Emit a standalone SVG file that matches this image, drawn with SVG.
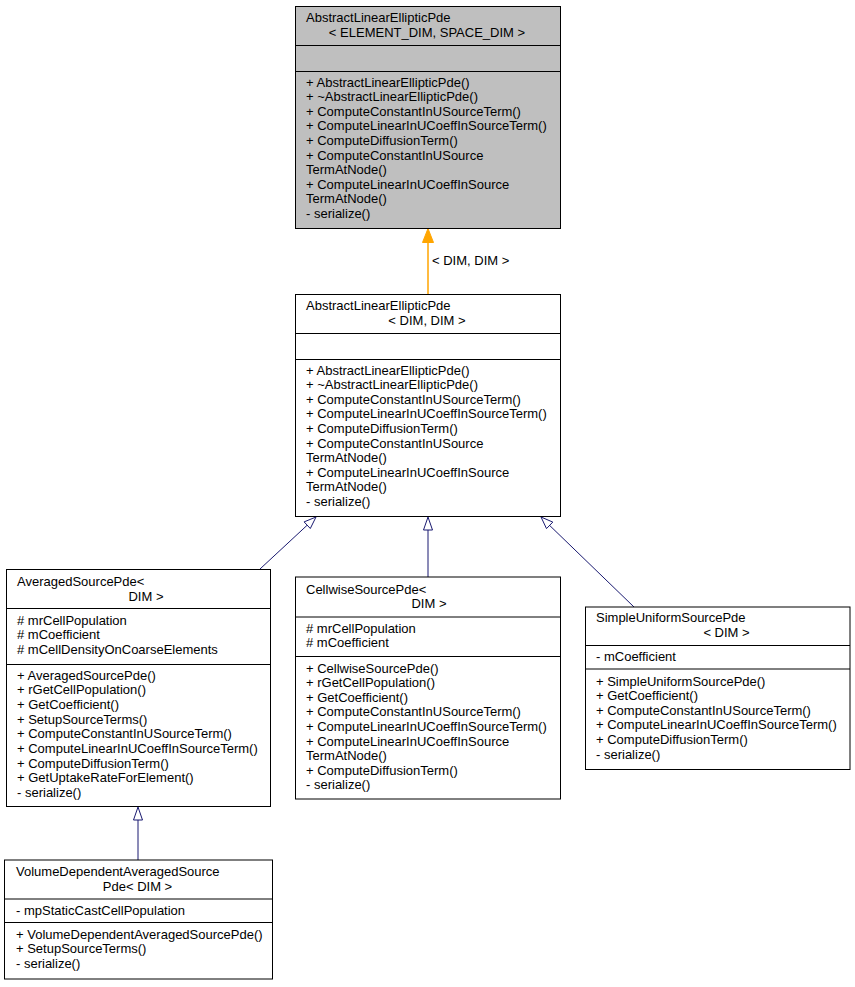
<svg xmlns="http://www.w3.org/2000/svg" width="855" height="987" viewBox="0 0 855 987">
<style>
.box{fill:#ffffff;stroke:#000000;stroke-width:1}
.gray{fill:#bfbfbf}
.sep{stroke:#000000;stroke-width:1}
text{font-family:"Liberation Sans",Arial,Helvetica,sans-serif;font-size:13px;fill:#000000}
.mid{text-anchor:middle}
.edge{stroke:#191970;stroke-width:1;fill:none}
.head{fill:#ffffff;stroke:#191970;stroke-width:1}
.oedge{stroke:#ffa500;stroke-width:1.5;fill:none}
.ohead{fill:#ffa500;stroke:#ffa500;stroke-width:1}
</style>
<rect width="855" height="987" fill="#ffffff"/>

<g id="connectors">
  <line class="oedge" x1="428" y1="294" x2="428" y2="242"/>
  <polygon class="ohead" points="428,228.5 422.5,242.5 433.5,242.5"/>
  <text x="432" y="264.5">&lt; DIM, DIM &gt;</text>

  <line class="edge" x1="260" y1="569" x2="307.2" y2="525.2"/>
  <polygon class="head" points="316,517 304.1,521.9 310.3,528.5"/>

  <line class="edge" x1="428" y1="577" x2="428" y2="530"/>
  <polygon class="head" points="428,517 423.5,530 432.5,530"/>

  <line class="edge" x1="634" y1="607" x2="549.6" y2="525.4"/>
  <polygon class="head" points="541,517 552.8,522.1 546.5,528.6"/>

  <line class="edge" x1="138" y1="860" x2="138" y2="820"/>
  <polygon class="head" points="138,807 133.5,820 142.5,820"/>
</g>

<g id="node1">
  <rect class="box gray" x="295.5" y="6.5" width="265" height="222"/>
  <line class="sep" x1="295.5" y1="45.5" x2="560.5" y2="45.5"/>
  <line class="sep" x1="295.5" y1="71.5" x2="560.5" y2="71.5"/>
  <text x="306" y="22">AbstractLinearEllipticPde</text>
  <text class="mid" x="427" y="37">&lt; ELEMENT_DIM, SPACE_DIM &gt;</text>
  <text x="306" y="86.5">+ AbstractLinearEllipticPde()</text>
  <text x="306" y="101.1">+ ~AbstractLinearEllipticPde()</text>
  <text x="306" y="115.7">+ ComputeConstantInUSourceTerm()</text>
  <text x="306" y="130.3">+ ComputeLinearInUCoeffInSourceTerm()</text>
  <text x="306" y="144.9">+ ComputeDiffusionTerm()</text>
  <text x="306" y="159.5">+ ComputeConstantInUSource</text>
  <text x="306" y="174.1">TermAtNode()</text>
  <text x="306" y="188.7">+ ComputeLinearInUCoeffInSource</text>
  <text x="306" y="203.3">TermAtNode()</text>
  <text x="306" y="217.9">- serialize()</text>
</g>

<g id="node2">
  <rect class="box" x="295.5" y="294.5" width="265" height="222"/>
  <line class="sep" x1="295.5" y1="333.5" x2="560.5" y2="333.5"/>
  <line class="sep" x1="295.5" y1="359.5" x2="560.5" y2="359.5"/>
  <text x="306" y="310">AbstractLinearEllipticPde</text>
  <text class="mid" x="427" y="325">&lt; DIM, DIM &gt;</text>
  <text x="306" y="374.5">+ AbstractLinearEllipticPde()</text>
  <text x="306" y="389.1">+ ~AbstractLinearEllipticPde()</text>
  <text x="306" y="403.7">+ ComputeConstantInUSourceTerm()</text>
  <text x="306" y="418.3">+ ComputeLinearInUCoeffInSourceTerm()</text>
  <text x="306" y="432.9">+ ComputeDiffusionTerm()</text>
  <text x="306" y="447.5">+ ComputeConstantInUSource</text>
  <text x="306" y="462.1">TermAtNode()</text>
  <text x="306" y="476.7">+ ComputeLinearInUCoeffInSource</text>
  <text x="306" y="491.3">TermAtNode()</text>
  <text x="306" y="505.9">- serialize()</text>
</g>

<g id="node3">
  <rect class="box" x="6.5" y="569.5" width="264" height="237"/>
  <line class="sep" x1="6.5" y1="608.5" x2="270.5" y2="608.5"/>
  <line class="sep" x1="6.5" y1="664.5" x2="270.5" y2="664.5"/>
  <text x="17" y="585.5">AveragedSourcePde&lt;</text>
  <text class="mid" x="146" y="600.5">DIM &gt;</text>
  <text x="17" y="624.5"># mrCellPopulation</text>
  <text x="17" y="639.1"># mCoefficient</text>
  <text x="17" y="653.7"># mCellDensityOnCoarseElements</text>
  <text x="17" y="679.5">+ AveragedSourcePde()</text>
  <text x="17" y="694.2">+ rGetCellPopulation()</text>
  <text x="17" y="708.9">+ GetCoefficient()</text>
  <text x="17" y="723.6">+ SetupSourceTerms()</text>
  <text x="17" y="738.3">+ ComputeConstantInUSourceTerm()</text>
  <text x="17" y="753">+ ComputeLinearInUCoeffInSourceTerm()</text>
  <text x="17" y="767.7">+ ComputeDiffusionTerm()</text>
  <text x="17" y="782.4">+ GetUptakeRateForElement()</text>
  <text x="17" y="797.1">- serialize()</text>
</g>

<g id="node4">
  <rect class="box" x="295.5" y="577" width="265" height="222"/>
  <line class="sep" x1="295.5" y1="617" x2="560.5" y2="617"/>
  <line class="sep" x1="295.5" y1="656.5" x2="560.5" y2="656.5"/>
  <text x="306" y="593.5">CellwiseSourcePde&lt;</text>
  <text class="mid" x="429" y="607.5">DIM &gt;</text>
  <text x="306" y="632.5"># mrCellPopulation</text>
  <text x="306" y="647"># mCoefficient</text>
  <text x="306" y="672.5">+ CellwiseSourcePde()</text>
  <text x="306" y="687.1">+ rGetCellPopulation()</text>
  <text x="306" y="701.7">+ GetCoefficient()</text>
  <text x="306" y="716.3">+ ComputeConstantInUSourceTerm()</text>
  <text x="306" y="730.9">+ ComputeLinearInUCoeffInSourceTerm()</text>
  <text x="306" y="745.5">+ ComputeLinearInUCoeffInSource</text>
  <text x="306" y="760.1">TermAtNode()</text>
  <text x="306" y="774.7">+ ComputeDiffusionTerm()</text>
  <text x="306" y="789.3">- serialize()</text>
</g>

<g id="node5">
  <rect class="box" x="585.5" y="607" width="264.5" height="162.5"/>
  <line class="sep" x1="585.5" y1="645.5" x2="850" y2="645.5"/>
  <line class="sep" x1="585.5" y1="669" x2="850" y2="669"/>
  <text x="596" y="621.5">SimpleUniformSourcePde</text>
  <text class="mid" x="726.5" y="637">&lt; DIM &gt;</text>
  <text x="596" y="660.5">- mCoefficient</text>
  <text x="596" y="685.5">+ SimpleUniformSourcePde()</text>
  <text x="596" y="700.1">+ GetCoefficient()</text>
  <text x="596" y="714.7">+ ComputeConstantInUSourceTerm()</text>
  <text x="596" y="729.3">+ ComputeLinearInUCoeffInSourceTerm()</text>
  <text x="596" y="743.9">+ ComputeDiffusionTerm()</text>
  <text x="596" y="758.5">- serialize()</text>
</g>

<g id="node6">
  <rect class="box" x="4.5" y="860" width="268" height="119"/>
  <line class="sep" x1="4.5" y1="899" x2="272.5" y2="899"/>
  <line class="sep" x1="4.5" y1="922.5" x2="272.5" y2="922.5"/>
  <text x="16" y="876">VolumeDependentAveragedSource</text>
  <text class="mid" x="137.5" y="891">Pde&lt; DIM &gt;</text>
  <text x="16" y="914.5">- mpStaticCastCellPopulation</text>
  <text x="16" y="938.5">+ VolumeDependentAveragedSourcePde()</text>
  <text x="16" y="953">+ SetupSourceTerms()</text>
  <text x="16" y="967.5">- serialize()</text>
</g>
</svg>
